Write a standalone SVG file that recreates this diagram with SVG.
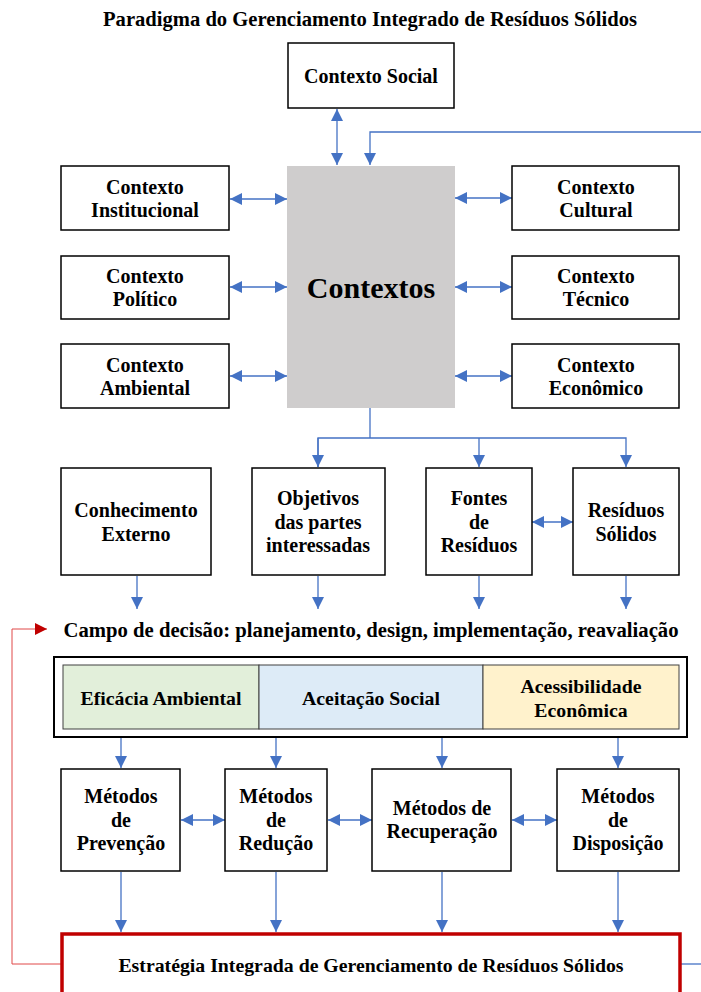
<svg xmlns="http://www.w3.org/2000/svg" width="701" height="992" viewBox="0 0 701 992">
<style>
text{font-family:"Liberation Serif","Times New Roman",serif;font-weight:bold;fill:#000;text-anchor:middle}
.t{font-size:20px}
.box{fill:#fff;stroke:#000;stroke-width:1.5}
.c{fill:none;stroke:#4472C4;stroke-width:1.3}
.cell{stroke:#404040;stroke-width:1}
</style>
<defs>
<marker id="a" markerUnits="userSpaceOnUse" markerWidth="12" markerHeight="12" refX="10" refY="5" orient="auto-start-reverse" viewBox="0 0 10 10"><path d="M0,0 L10,5 L0,10 Z" fill="#4472C4"/></marker>
<marker id="r" markerUnits="userSpaceOnUse" markerWidth="12" markerHeight="12" refX="10" refY="5" orient="auto" viewBox="0 0 10 10"><path d="M0,0 L10,5 L0,10 Z" fill="#C00000"/></marker>
</defs>
<rect width="701" height="992" fill="#fff"/>
<text x="370" y="26" style="font-size:20.6px">Paradigma do Gerenciamento Integrado de Resíduos Sólidos</text>

<g id="connectors">
<line class="c" x1="337" y1="109" x2="337" y2="165" marker-start="url(#a)" marker-end="url(#a)"/>
<polyline class="c" points="701,132 370,132 370,165" marker-end="url(#a)"/>
<line class="c" x1="230" y1="199" x2="287" y2="199" marker-start="url(#a)" marker-end="url(#a)"/>
<line class="c" x1="230" y1="287" x2="287" y2="287" marker-start="url(#a)" marker-end="url(#a)"/>
<line class="c" x1="230" y1="376" x2="287" y2="376" marker-start="url(#a)" marker-end="url(#a)"/>
<line class="c" x1="455" y1="198" x2="512" y2="198" marker-start="url(#a)" marker-end="url(#a)"/>
<line class="c" x1="455" y1="287" x2="512" y2="287" marker-start="url(#a)" marker-end="url(#a)"/>
<line class="c" x1="455" y1="376" x2="512" y2="376" marker-start="url(#a)" marker-end="url(#a)"/>
<line class="c" x1="370" y1="408" x2="370" y2="438"/>
<polyline class="c" points="318,467 318,438 626,438 626,467" marker-end="url(#a)"/>
<line class="c" x1="318" y1="438" x2="318" y2="467" marker-end="url(#a)"/>
<line class="c" x1="479" y1="438" x2="479" y2="467" marker-end="url(#a)"/>
<line class="c" x1="532" y1="522" x2="573" y2="522" marker-start="url(#a)" marker-end="url(#a)"/>
<line class="c" x1="137" y1="576" x2="137" y2="609" marker-end="url(#a)"/>
<line class="c" x1="318" y1="576" x2="318" y2="609" marker-end="url(#a)"/>
<line class="c" x1="479" y1="576" x2="479" y2="609" marker-end="url(#a)"/>
<line class="c" x1="626" y1="576" x2="626" y2="609" marker-end="url(#a)"/>
<line class="c" x1="121" y1="738" x2="121" y2="768" marker-end="url(#a)"/>
<line class="c" x1="276" y1="738" x2="276" y2="768" marker-end="url(#a)"/>
<line class="c" x1="442" y1="738" x2="442" y2="768" marker-end="url(#a)"/>
<line class="c" x1="618" y1="738" x2="618" y2="768" marker-end="url(#a)"/>
<line class="c" x1="181" y1="820" x2="225" y2="820" marker-start="url(#a)" marker-end="url(#a)"/>
<line class="c" x1="328" y1="820" x2="372" y2="820" marker-start="url(#a)" marker-end="url(#a)"/>
<line class="c" x1="512" y1="820" x2="557" y2="820" marker-start="url(#a)" marker-end="url(#a)"/>
<line class="c" x1="121" y1="872" x2="121" y2="932" marker-end="url(#a)"/>
<line class="c" x1="276" y1="872" x2="276" y2="932" marker-end="url(#a)"/>
<line class="c" x1="442" y1="872" x2="442" y2="932" marker-end="url(#a)"/>
<line class="c" x1="618" y1="872" x2="618" y2="932" marker-end="url(#a)"/>
<line class="c" x1="681" y1="964" x2="701" y2="964"/>
<polyline points="61,964 12,964 12,629 47,629" fill="none" stroke="#E04848" stroke-width="1" marker-end="url(#r)"/>
</g>

<g id="contexto-social"><rect class="box" x="288" y="43" width="166" height="65"/><text class="t" x="371" y="83">Contexto Social</text></g>
<g id="contextos"><rect x="287" y="166" width="168" height="242" fill="#CFCDCD"/><text x="371" y="298" style="font-size:30px">Contextos</text></g>
<g id="institucional"><rect class="box" x="61" y="166" width="168" height="64"/><text class="t" x="145" y="194">Contexto</text><text class="t" x="145" y="217">Institucional</text></g>
<g id="politico"><rect class="box" x="61" y="256" width="168" height="63"/><text class="t" x="145" y="283">Contexto</text><text class="t" x="145" y="306">Político</text></g>
<g id="ambiental"><rect class="box" x="61" y="344" width="168" height="64"/><text class="t" x="145" y="372">Contexto</text><text class="t" x="145" y="395">Ambiental</text></g>
<g id="cultural"><rect class="box" x="512" y="166" width="167" height="64"/><text class="t" x="596" y="194">Contexto</text><text class="t" x="596" y="217">Cultural</text></g>
<g id="tecnico"><rect class="box" x="512" y="256" width="167" height="63"/><text class="t" x="596" y="283">Contexto</text><text class="t" x="596" y="306">Técnico</text></g>
<g id="economico"><rect class="box" x="512" y="344" width="167" height="64"/><text class="t" x="596" y="372">Contexto</text><text class="t" x="596" y="395">Econômico</text></g>

<g id="conhecimento"><rect class="box" x="61" y="468" width="150" height="107"/><text class="t" x="136" y="517">Conhecimento</text><text class="t" x="136" y="541">Externo</text></g>
<g id="objetivos"><rect class="box" x="252" y="468" width="133" height="107"/><text class="t" x="318" y="505">Objetivos</text><text class="t" x="318" y="529">das partes</text><text class="t" x="318" y="552">interessadas</text></g>
<g id="fontes"><rect class="box" x="426" y="468" width="106" height="107"/><text class="t" x="479" y="505">Fontes</text><text class="t" x="479" y="529">de</text><text class="t" x="479" y="552">Resíduos</text></g>
<g id="residuos"><rect class="box" x="573" y="468" width="106" height="107"/><text class="t" x="626" y="517">Resíduos</text><text class="t" x="626" y="541">Sólidos</text></g>

<g id="campo"><text x="371" y="637" style="font-size:20.7px">Campo de decisão: planejamento, design, implementação, reavaliação</text></g>

<g id="criterios">
<rect x="54" y="657" width="633" height="80" fill="#fff" stroke="#000" stroke-width="2"/>
<rect class="cell" x="63" y="665" width="196" height="64" fill="#E2EFDA"/>
<rect class="cell" x="259" y="665" width="224" height="64" fill="#DDEBF7"/>
<rect class="cell" x="483" y="665" width="196" height="64" fill="#FFF2CC"/>
<text x="161" y="705" style="font-size:19.8px">Eficácia Ambiental</text>
<text x="371" y="705" style="font-size:19.8px">Aceitação Social</text>
<text x="581" y="693" style="font-size:19.8px">Acessibilidade</text>
<text x="581" y="717" style="font-size:19.8px">Econômica</text>
</g>

<g id="prevencao"><rect class="box" x="61" y="769" width="119" height="102"/><text class="t" x="121" y="803">Métodos</text><text class="t" x="121" y="827">de</text><text class="t" x="121" y="850">Prevenção</text></g>
<g id="reducao"><rect class="box" x="225" y="769" width="102" height="102"/><text class="t" x="276" y="803">Métodos</text><text class="t" x="276" y="827">de</text><text class="t" x="276" y="850">Redução</text></g>
<g id="recuperacao"><rect class="box" x="372" y="769" width="139" height="102"/><text class="t" x="442" y="815">Métodos de</text><text class="t" x="442" y="838">Recuperação</text></g>
<g id="disposicao"><rect class="box" x="557" y="769" width="122" height="102"/><text class="t" x="618" y="803">Métodos</text><text class="t" x="618" y="827">de</text><text class="t" x="618" y="850">Disposição</text></g>

<g id="estrategia"><rect x="62" y="934" width="618" height="70" fill="#fff" stroke="#C00000" stroke-width="3.5"/><text x="371" y="972" style="font-size:19.8px">Estratégia Integrada de Gerenciamento de Resíduos Sólidos</text></g>
</svg>
